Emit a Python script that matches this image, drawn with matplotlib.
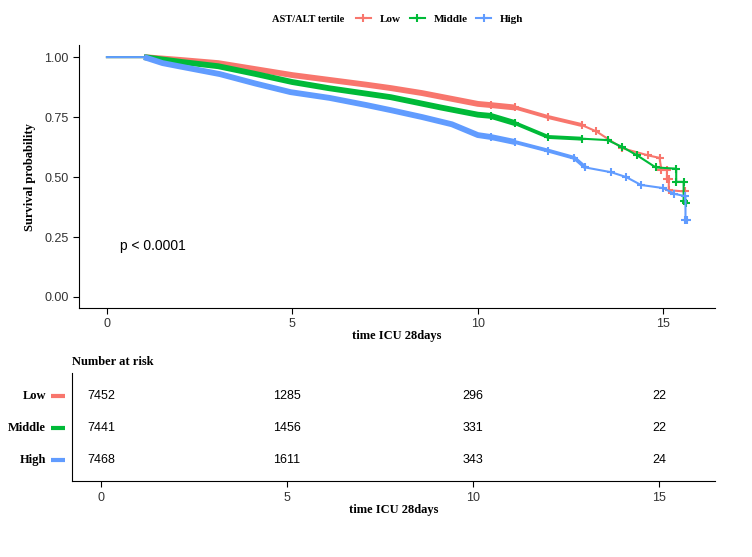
import numpy as np
import matplotlib
matplotlib.use("Agg")
import matplotlib.pyplot as plt
from matplotlib.lines import Line2D

# Kaplan-Meier curves (time, survival); repeated times are drops
low_t = [0, 1.0, 2.0, 3.0, 4.0, 5.0, 6.0, 7.0, 7.65, 8.5, 9.0, 10.0, 10.35, 11.0, 11.9,
         12.8, 13.2, 13.9, 14.6, 14.9, 14.95, 15.1, 15.1, 15.15, 15.15, 15.58]
low_s = [1.0, 1.0, 0.988, 0.975, 0.95, 0.925, 0.905, 0.885, 0.871, 0.85, 0.835, 0.805, 0.80,
         0.79, 0.75, 0.717, 0.69, 0.62, 0.59, 0.58, 0.53, 0.53, 0.49, 0.49, 0.445, 0.44]
mid_t = [0, 1.0, 2.0, 3.0, 4.0, 5.0, 6.0, 7.65, 9.0, 10.0, 10.35, 11.0, 11.9, 12.8, 13.5,
         13.9, 14.3, 14.8, 15.35, 15.35, 15.55, 15.55, 15.62]
mid_s = [1.0, 1.0, 0.98, 0.962, 0.93, 0.896, 0.87, 0.833, 0.79, 0.76, 0.755, 0.725, 0.667,
         0.66, 0.654, 0.625, 0.59, 0.54, 0.535, 0.48, 0.48, 0.40, 0.39]
high_t = [0, 1.0, 1.5, 2.0, 3.05, 4.0, 4.95, 6.0, 7.0, 7.65, 8.5, 9.3, 10.0, 10.35, 11.0,
          11.9, 12.6, 12.9, 13.6, 14.0, 14.4, 15.0, 15.3, 15.6, 15.6, 15.63]
high_s = [1.0, 1.0, 0.975, 0.96, 0.929, 0.89, 0.854, 0.83, 0.80, 0.779, 0.75, 0.72, 0.675,
          0.667, 0.646, 0.61, 0.58, 0.54, 0.52, 0.50, 0.467, 0.454, 0.43, 0.42, 0.32, 0.32]

groups = ["Low", "Middle", "High"]
colors = ["#F8766D", "#00BA38", "#619CFF"]

risk_times = [0, 5, 10, 15]
risk_low = [7452, 1285, 296, 22]
risk_mid = [7441, 1456, 331, 22]
risk_high = [7468, 1611, 343, 24]

serif = "Liberation Serif"
sans = "Liberation Sans"

fig = plt.figure(figsize=(7.52, 5.57), dpi=100)

# main survival plot
ax = fig.add_axes([0.105, 0.447, 0.846, 0.472])
curves = [(low_t, low_s), (mid_t, mid_s), (high_t, high_s)]
for (t, s), c in zip(curves, colors):
    t = np.array(t)
    s = np.array(s)
    ax.plot(t, s, color=c, lw=1.5)
    # dense censor marks make the early part look like a thick band
    band = (t >= 1.0) & (t <= 11.5)
    ax.plot(t[band], s[band], color=c, lw=4.2, solid_capstyle="butt")
    mid = (t >= 11.0) & (t <= 13.0)
    ax.plot(t[mid], s[mid], color=c, lw=2.8, solid_capstyle="butt")
    late = t > 10.0
    ax.plot(t[late], s[late], "+", color=c, ms=6, mew=1.5)

ax.set_xlim(-0.755, 16.4)
ax.set_ylim(-0.046, 1.05)
ax.set_xticks([0, 5, 10, 15])
ax.set_yticks([0, 0.25, 0.5, 0.75, 1.0])
ax.set_yticklabels(["0.00", "0.25", "0.50", "0.75", "1.00"])
for side in ["top", "right"]:
    ax.spines[side].set_visible(False)
ax.tick_params(labelsize=9, length=4, colors="black")
for lab in ax.get_xticklabels() + ax.get_yticklabels():
    lab.set_fontfamily(sans)
    lab.set_color("#333333")
ax.set_xlabel("time ICU 28days", fontfamily=serif, fontweight="bold", fontsize=9, labelpad=0)
ax.set_ylabel("Survival probability", fontfamily=serif, fontweight="bold", fontsize=9, labelpad=6)
ax.text(0.35, 0.2125, "p < 0.0001", fontfamily=sans, fontsize=10, va="center", ha="left")

# legend on top
fig.text(344 / 752, 1 - 19 / 557, "AST/ALT tertile", fontfamily=serif, fontweight="bold",
         fontsize=7.5, ha="right", va="center")
handles = [Line2D([], [], color=c, lw=1.5, marker="+", ms=6, mew=1.5) for c in colors]
leg = fig.legend(handles, groups, loc="center left", bbox_to_anchor=(348 / 752, 1 - 19 / 557),
                 ncol=3, frameon=False, handlelength=1.35, handletextpad=0.8, columnspacing=0.8,
                 borderpad=0.2, prop={"family": serif, "weight": "bold", "size": 8})

# risk table
rax = fig.add_axes([0.0957, 0.136, 0.855, 0.194])
rax.set_xlim(-0.78, 16.5)
rax.set_ylim(-0.656, 2.72)
rows = [risk_low, risk_mid, risk_high]
ypos = [2, 1, 0]
for vals, y in zip(rows, ypos):
    for t, v in zip(risk_times, vals):
        rax.text(t, y, str(v), ha="center", va="center", fontfamily=sans, fontsize=9)
for g, c, y in zip(groups, colors, ypos):
    rax.text(-1.48, y, g, ha="right", va="center", fontfamily=serif, fontweight="bold",
             fontsize=9, clip_on=False)
    rax.plot([-1.34, -0.97], [y, y], color=c, lw=3, clip_on=False, solid_capstyle="butt")
rax.set_xticks(risk_times)
rax.set_yticks([])
for side in ["top", "right"]:
    rax.spines[side].set_visible(False)
rax.tick_params(labelsize=9, length=4)
for lab in rax.get_xticklabels():
    lab.set_fontfamily(sans)
    lab.set_color("#333333")
rax.set_xlabel("time ICU 28days", fontfamily=serif, fontweight="bold", fontsize=9, labelpad=0)
rax.set_title("Number at risk", loc="left", fontfamily=serif, fontweight="bold", fontsize=9,
              pad=6)

fig.savefig("out.png", dpi=100)
